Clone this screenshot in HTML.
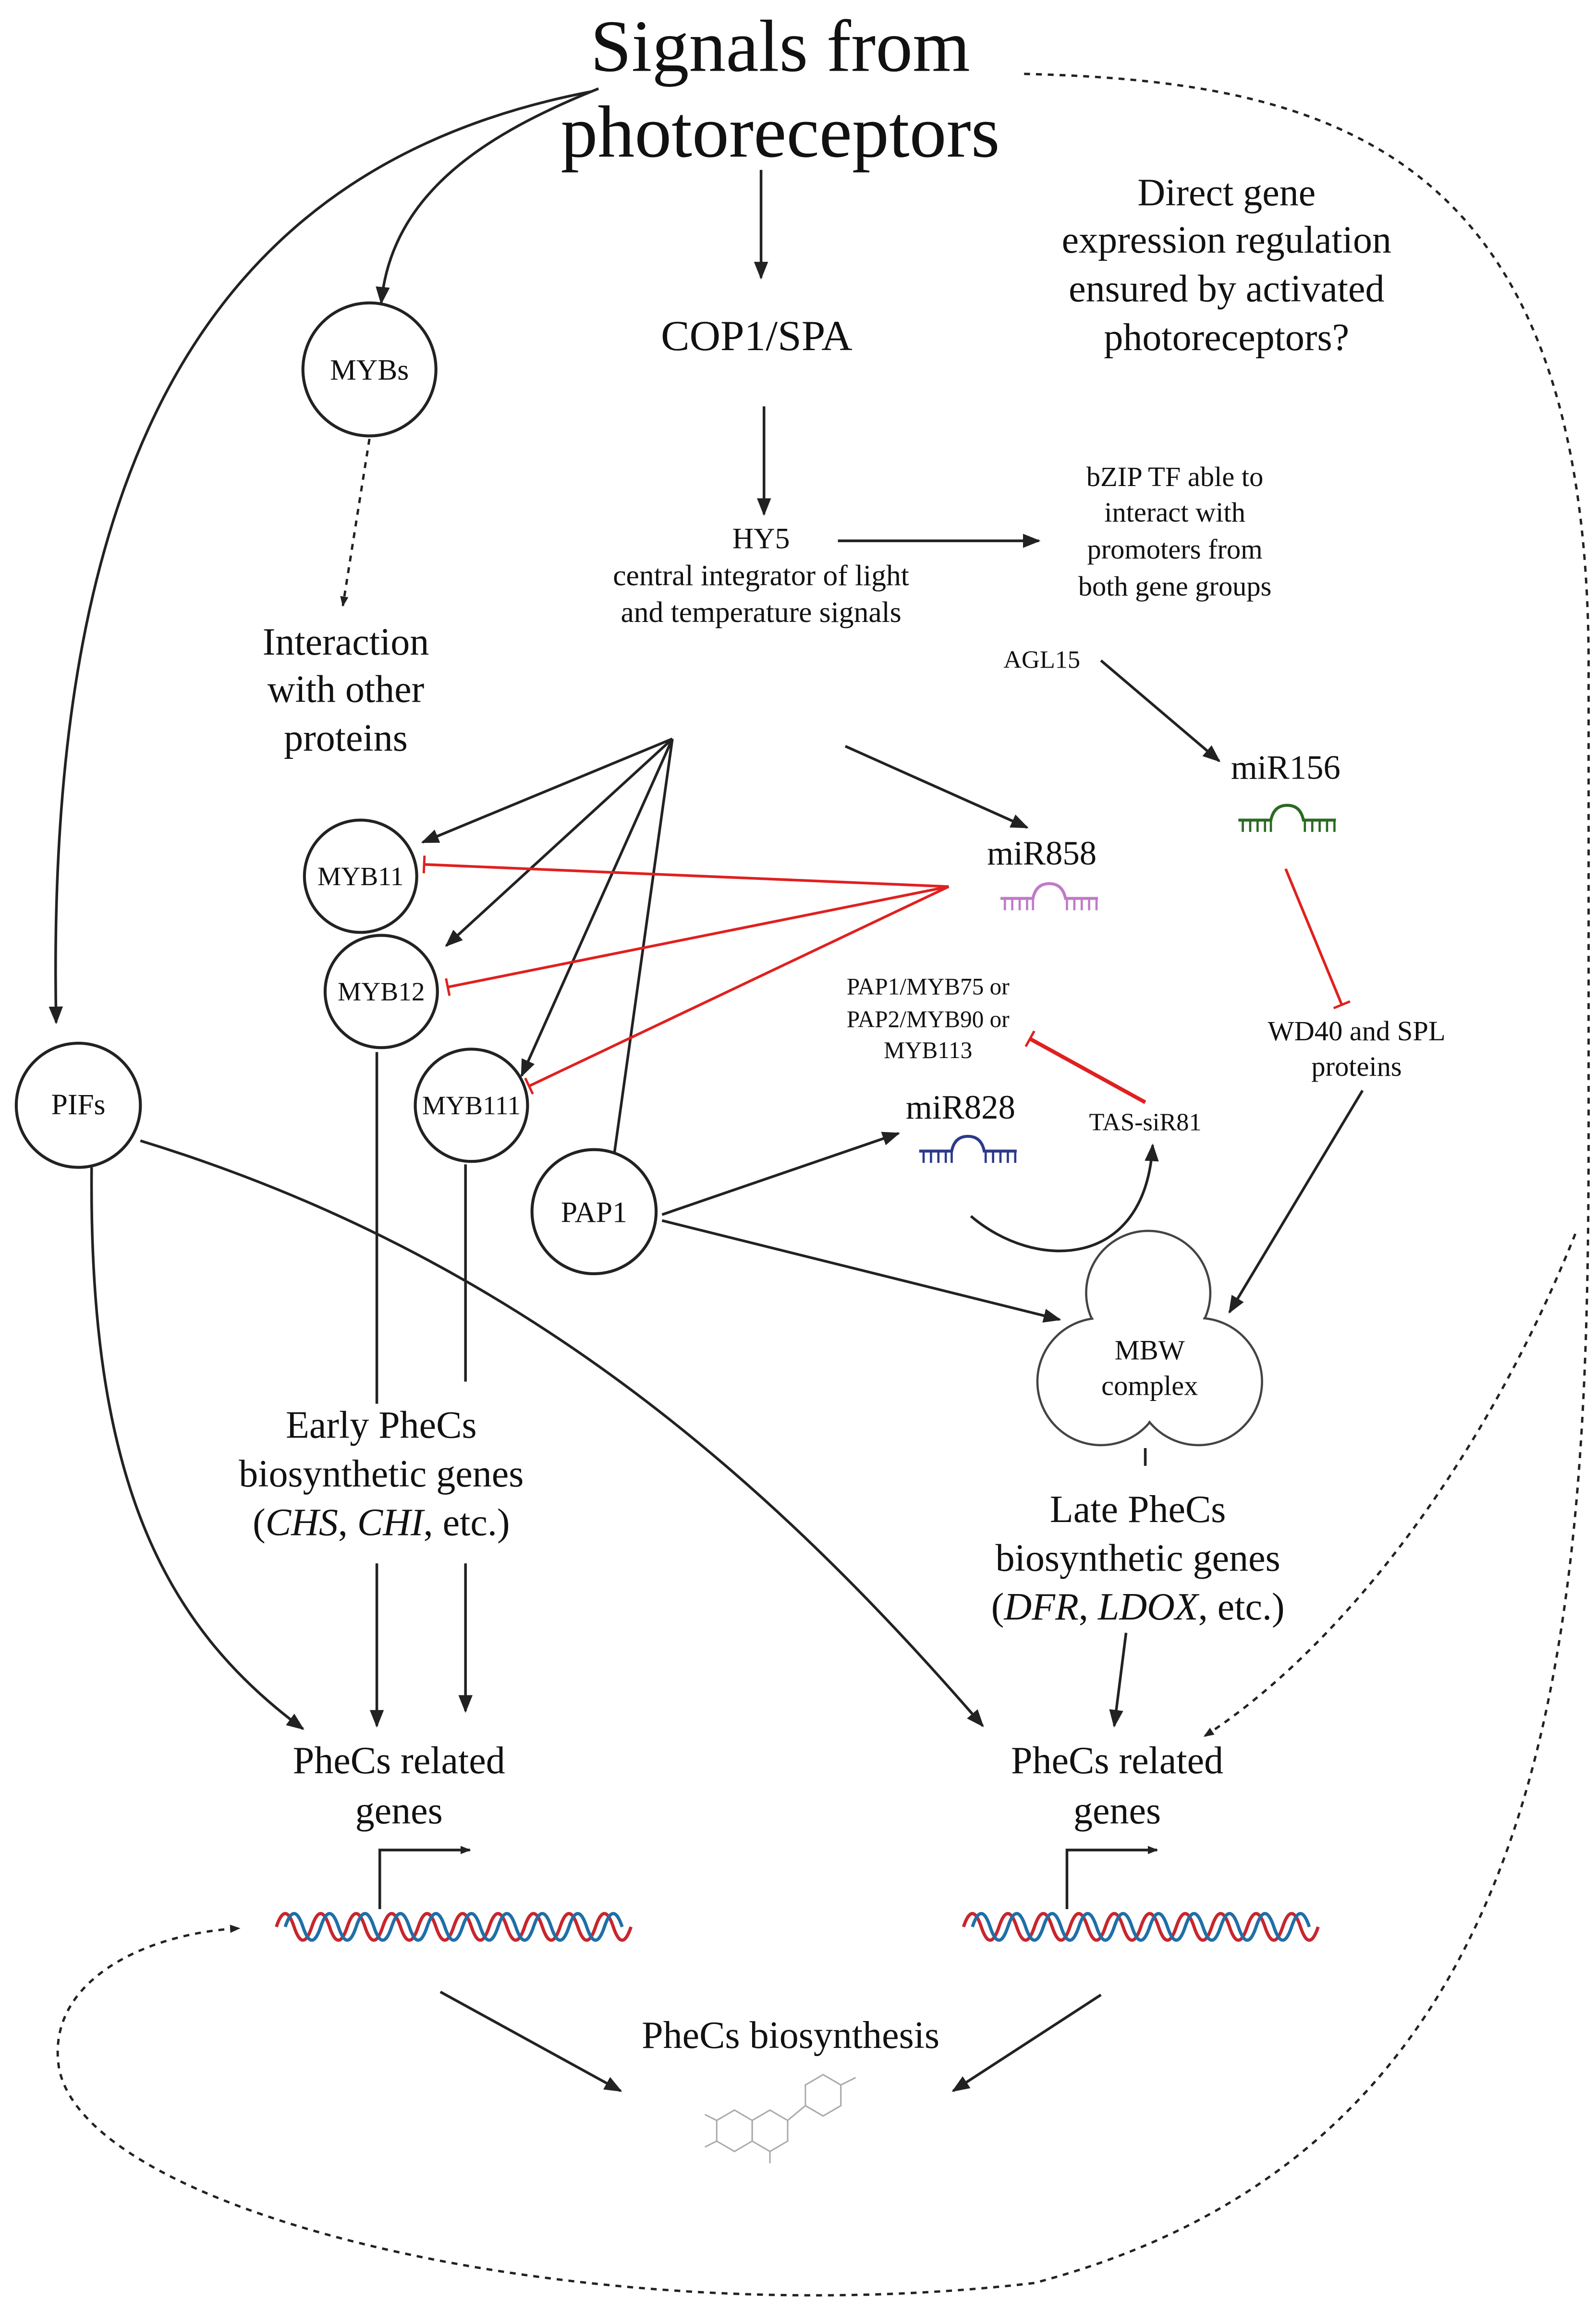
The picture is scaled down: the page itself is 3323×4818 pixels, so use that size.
<!DOCTYPE html>
<html><head><meta charset="utf-8"><style>html,body{margin:0;padding:0;background:#fff}svg{display:block}text{font-family:"Liberation Serif",serif;fill:#111}</style></head><body>
<svg width="3323" height="4818" viewBox="0 0 1080 1566" preserveAspectRatio="none" xmlns="http://www.w3.org/2000/svg">
<defs>
<marker id="a" viewBox="0 0 10 10" refX="9" refY="5" markerWidth="7" markerHeight="7" orient="auto-start-reverse" markerUnits="userSpaceOnUse"><path d="M0,1 L10,5 L0,9z" fill="#222"/></marker>
<marker id="A" viewBox="0 0 10 10" refX="9" refY="5" markerWidth="12" markerHeight="12" orient="auto" markerUnits="userSpaceOnUse"><path d="M0,1 L10,5 L0,9z" fill="#222"/></marker>
<marker id="t" viewBox="0 0 4 12" refX="2" refY="6" markerWidth="4" markerHeight="12" orient="auto" markerUnits="userSpaceOnUse"><path d="M2,0 L2,12" stroke="#e02020" stroke-width="1.6"/></marker>
<g id="rna"><path d="M0,8 H22 Q24,-2 33,-2 Q42,-2 44,8 H66" fill="none" stroke-width="2"/><path d="M3,8V16M8,8V16M13,8V16M18,8V16M22,8V16M45,8V16M50,8V16M55,8V16M60,8V16M65,8V16" stroke-width="1.5"/></g>
<g id="dna">
<path d="M0,9 q6,-18 12,0 q6,18 12,0 q6,-18 12,0 q6,18 12,0 q6,-18 12,0 q6,18 12,0 q6,-18 12,0 q6,18 12,0 q6,-18 12,0 q6,18 12,0 q6,-18 12,0 q6,18 12,0 q6,-18 12,0 q6,18 12,0 q6,-18 12,0 q6,18 12,0 q6,-18 12,0 q6,18 12,0 q6,-18 12,0 q6,18 12,0" fill="none" stroke="#c8262d" stroke-width="2.2"/>
<path d="M6,9 q6,-18 12,0 q6,18 12,0 q6,-18 12,0 q6,18 12,0 q6,-18 12,0 q6,18 12,0 q6,-18 12,0 q6,18 12,0 q6,-18 12,0 q6,18 12,0 q6,-18 12,0 q6,18 12,0 q6,-18 12,0 q6,18 12,0 q6,-18 12,0 q6,18 12,0 q6,-18 12,0 q6,18 12,0 q6,-18 12,0" fill="none" stroke="#1f6fa8" stroke-width="2.2"/>
</g>
</defs>
<rect width="1080" height="1566" fill="#fff"/>
<g fill="none" stroke="#222" stroke-width="1.8" marker-end="url(#A)">
<path d="M515,115V188"/><path d="M517,275V348"/><path d="M567,366H703"/>
<path d="M745,447L825,515"/>
<path d="M922,738L832,888"/>
<path d="M405,60C330,90 265,130 258,205"/>
<path d="M455,500L286,570"/><path d="M455,500L302,640"/><path d="M455,500L353,728"/><path d="M455,500L413,800"/>
<path d="M572,505L695,560"/>
<path d="M448,822L608,767"/><path d="M448,826L717,893"/>
<path d="M657,823C700,860 775,860 780,775"/>
<path d="M762,1105L754,1168"/>
<path d="M255,1058V1168"/><path d="M315,1058V1158"/>
<path d="M400,62C150,110 30,300 38,692"/>
<path d="M62,790C60,1000 110,1100 205,1170"/>
<path d="M95,772C350,850 520,1000 665,1168"/>
<path d="M298,1348L420,1415"/><path d="M745,1350L645,1415"/>
</g>
<g fill="none" stroke="#222" stroke-width="1.8">
<path d="M255,712V950"/><path d="M315,788V935"/><path d="M775,980V992"/>
<path d="M257,1292V1252H318" marker-end="url(#a)"/>
<path d="M722,1292V1252H783" marker-end="url(#a)"/>
</g>
<g fill="none" stroke="#222" stroke-width="1.6" stroke-dasharray="4,4">
<path d="M250,297L232,410" marker-end="url(#a)"/>
<path d="M693,50C900,55 1075,100 1075,450L1075,760C1075,1100 1060,1450 700,1545C400,1580 60,1500 40,1400C30,1340 100,1308 162,1305" marker-end="url(#a)"/>
<path d="M1066,835C1000,1000 900,1120 815,1175" marker-end="url(#a)"/>
</g>
<g fill="none" stroke="#e02020" stroke-width="1.8" marker-end="url(#t)">
<path d="M642,600L287,585"/><path d="M642,600L303,668"/><path d="M642,600L358,735"/>
<path d="M870,588L908,680"/>
</g>
<path d="M775,746L697,703" stroke="#e02020" stroke-width="2.6" fill="none" marker-end="url(#t)"/>
<g fill="#fff" stroke="#222" stroke-width="2">
<circle cx="250" cy="250" r="45"/><circle cx="244" cy="593" r="38"/><circle cx="258" cy="671" r="38"/><circle cx="319" cy="748" r="38"/><circle cx="402" cy="820" r="42"/><circle cx="53" cy="748" r="42"/>
</g>
<g fill="#fff" stroke="#444" stroke-width="1.5">
<circle cx="777" cy="875" r="42"/><circle cx="745" cy="935" r="43"/><circle cx="811" cy="935" r="43"/>
</g>
<g fill="#fff"><circle cx="777" cy="875" r="41"/><circle cx="745" cy="935" r="42"/><circle cx="811" cy="935" r="42"/><rect x="755" y="880" width="45" height="50"/></g>
<g text-anchor="middle">
<text x="528" y="48" font-size="50">Signals from</text>
<text x="528" y="106" font-size="50">photoreceptors</text>
<text x="512" y="237" font-size="29">COP1/SPA</text>
<text x="515" y="371" font-size="20">HY5</text>
<text x="515" y="396" font-size="20">central integrator of light</text>
<text x="515" y="421" font-size="20">and temperature signals</text>
<text x="795" y="329" font-size="19">bZIP TF able to</text>
<text x="795" y="353" font-size="19">interact with</text>
<text x="795" y="378" font-size="19">promoters from</text>
<text x="795" y="403" font-size="19">both gene  groups</text>
<text x="830" y="139" font-size="26">Direct gene</text>
<text x="830" y="171" font-size="26">expression regulation</text>
<text x="830" y="204" font-size="26">ensured by activated</text>
<text x="830" y="237" font-size="26">photoreceptors?</text>
<text x="705" y="452" font-size="17">AGL15</text>
<text x="870" y="527" font-size="23">miR156</text>
<text x="918" y="704" font-size="19">WD40 and SPL</text>
<text x="918" y="728" font-size="19">proteins</text>
<text x="250" y="257" font-size="20">MYBs</text>
<text x="234" y="443" font-size="26">Interaction</text>
<text x="234" y="475" font-size="26">with other</text>
<text x="234" y="508" font-size="26">proteins</text>
<text x="244" y="599" font-size="18">MYB11</text>
<text x="258" y="677" font-size="18">MYB12</text>
<text x="319" y="754" font-size="18">MYB111</text>
<text x="402" y="827" font-size="20">PAP1</text>
<text x="53" y="754" font-size="20">PIFs</text>
<text x="705" y="585" font-size="23">miR858</text>
<text x="628" y="673" font-size="16">PAP1/MYB75 or</text>
<text x="628" y="695" font-size="16">PAP2/MYB90 or</text>
<text x="628" y="716" font-size="16">MYB113</text>
<text x="650" y="757" font-size="23">miR828</text>
<text x="775" y="765" font-size="17">TAS-siR81</text>
<text x="778" y="920" font-size="19">MBW</text>
<text x="778" y="944" font-size="19">complex</text>
<text x="770" y="1030" font-size="26">Late PheCs</text>
<text x="770" y="1063" font-size="26">biosynthetic genes</text>
<text x="770" y="1096" font-size="26">(<tspan font-style="italic">DFR</tspan>, <tspan font-style="italic">LDOX</tspan>, etc.)</text>
<text x="258" y="973" font-size="26">Early PheCs</text>
<text x="258" y="1006" font-size="26">biosynthetic genes</text>
<text x="258" y="1039" font-size="26">(<tspan font-style="italic">CHS</tspan>, <tspan font-style="italic">CHI</tspan>, etc.)</text>
<text x="270" y="1200" font-size="26">PheCs related</text>
<text x="270" y="1234" font-size="26">genes</text>
<text x="756" y="1200" font-size="26">PheCs related</text>
<text x="756" y="1234" font-size="26">genes</text>
<text x="535" y="1386" font-size="26">PheCs biosynthesis</text>
</g>
<use href="#rna" x="838" y="547" stroke="#2a6a22"/>
<use href="#rna" x="677" y="600" stroke="#c07ac8"/>
<use href="#rna" x="622" y="771" stroke="#2b3a8a"/>
<use href="#dna" x="187" y="1295"/>
<use href="#dna" x="652" y="1295"/>
<g fill="none" stroke="#aaa" stroke-width="1">
<path d="M485,1435l12,-7 12,7v14l-12,7 -12,-7z"/><path d="M509,1435l12,-7 12,7v14l-12,7 -12,-7z"/><path d="M533,1435l12,-10"/><path d="M545,1425l0,-14 12,-7 12,7v14l-12,7z"/><path d="M569,1411l10,-5"/><path d="M485,1435l-8,-4M485,1449l-8,4M521,1456v8"/>
</g>
</svg>
</body></html>
